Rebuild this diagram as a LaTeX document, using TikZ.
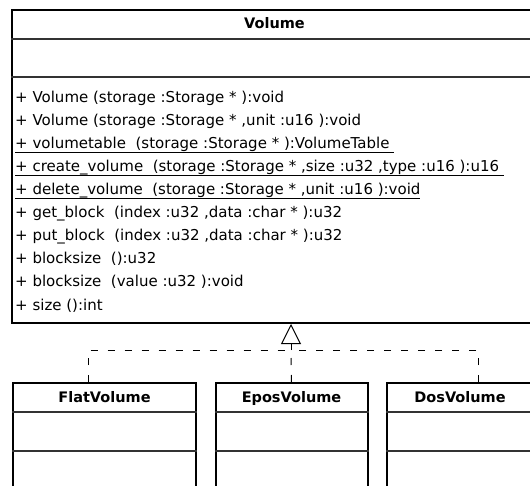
\documentclass[tikz,border=0pt]{standalone}
\usepackage{fontspec}
\setmainfont{DejaVu Sans}
\usetikzlibrary{positioning,arrows.meta}

% class-scope operations are underlined just below the descenders
\newcommand\staticop[1]{\setbox0\hbox{#1}\rlap{\rule[-4pt]{\wd0}{1pt}}\box0}

\begin{document}
\begin{tikzpicture}[
  x=1pt, y=-1pt,
  node distance=17.5pt,
  umlclass/.style={draw,line width=2pt,anchor=north west,inner sep=0pt,minimum height=150pt},
  classname/.style={anchor=base,inner sep=0pt,font=\fontsize{14.5}{16}\selectfont\bfseries},
  member/.style={anchor=base west,inner sep=0pt,font=\fontsize{15}{17}\selectfont},
  divider/.style={line width=1.3pt,black!80},
  realize/.style={line width=1pt,dash pattern=on 7pt off 10pt},
  inherit/.style={realize,-{Triangle[open,width=20pt,length=20pt,line width=1pt,fill=white]}}
]
  \useasboundingbox (0,0) rectangle (530,486);
  \clip (0,0) rectangle (530,486);

  % interface and its implementations
  \node[umlclass,minimum width=525pt,minimum height=313pt] (volume) at (11,9) {};
  \node[umlclass,minimum width=183pt] (flat) at (12,382) {};
  \node[umlclass,minimum width=152pt,right=of flat] (epos) {};
  \node[umlclass,minimum width=146pt,right=of epos] (dos) {};

  \node[classname] (volume-name) at ([yshift=-20pt]volume.north) {Volume};
  \node[classname] (flat-name) at ([yshift=-20pt]flat.north) {FlatVolume};
  \node[classname] (epos-name) at ([yshift=-20pt]epos.north) {EposVolume};
  \node[classname] (dos-name) at ([yshift=-20pt]dos.north) {DosVolume};

  \foreach \c/\a/\b in {volume/30/68,flat/30/69,epos/30/69,dos/30/69} {
    \draw[divider] ([yshift=-\a pt]\c.north west) -- ([yshift=-\a pt]\c.north east);
    \draw[divider] ([yshift=-\b pt]\c.north west) -- ([yshift=-\b pt]\c.north east);
  }

  % operations
  \foreach \txt [count=\i] in {
    {+ Volume (storage :Storage * ):void},
    {+ Volume (storage :Storage * ,unit :u16 ):void},
    {\staticop{+ volumetable\ \ (storage :Storage * ):VolumeTable\ }},
    {\staticop{+ create\_volume\ \ (storage :Storage * ,size :u32 ,type :u16 ):u16\ }},
    {\staticop{+ delete\_volume\ \ (storage :Storage * ,unit :u16 ):void}},
    {+ get\_block\ \ (index :u32 ,data :char * ):u32},
    {+ put\_block\ \ (index :u32 ,data :char * ):u32},
    {+ blocksize\ \ ():u32},
    {+ blocksize\ \ (value :u32 ):void},
    {+ size ():int}}
    \node[member] (op\i) at (15,80+23*\i) {\txt};

  % realization
  \coordinate (bus) at (291,350);
  \draw[realize] ([xshift=76.5pt]flat.north west) |- (bus);
  \draw[realize] (epos.north) -- (bus);
  \draw[realize] ([xshift=92pt]dos.north west) |- (bus);
  \draw[inherit] (bus) -- (bus |- volume.south);
\end{tikzpicture}
\end{document}
